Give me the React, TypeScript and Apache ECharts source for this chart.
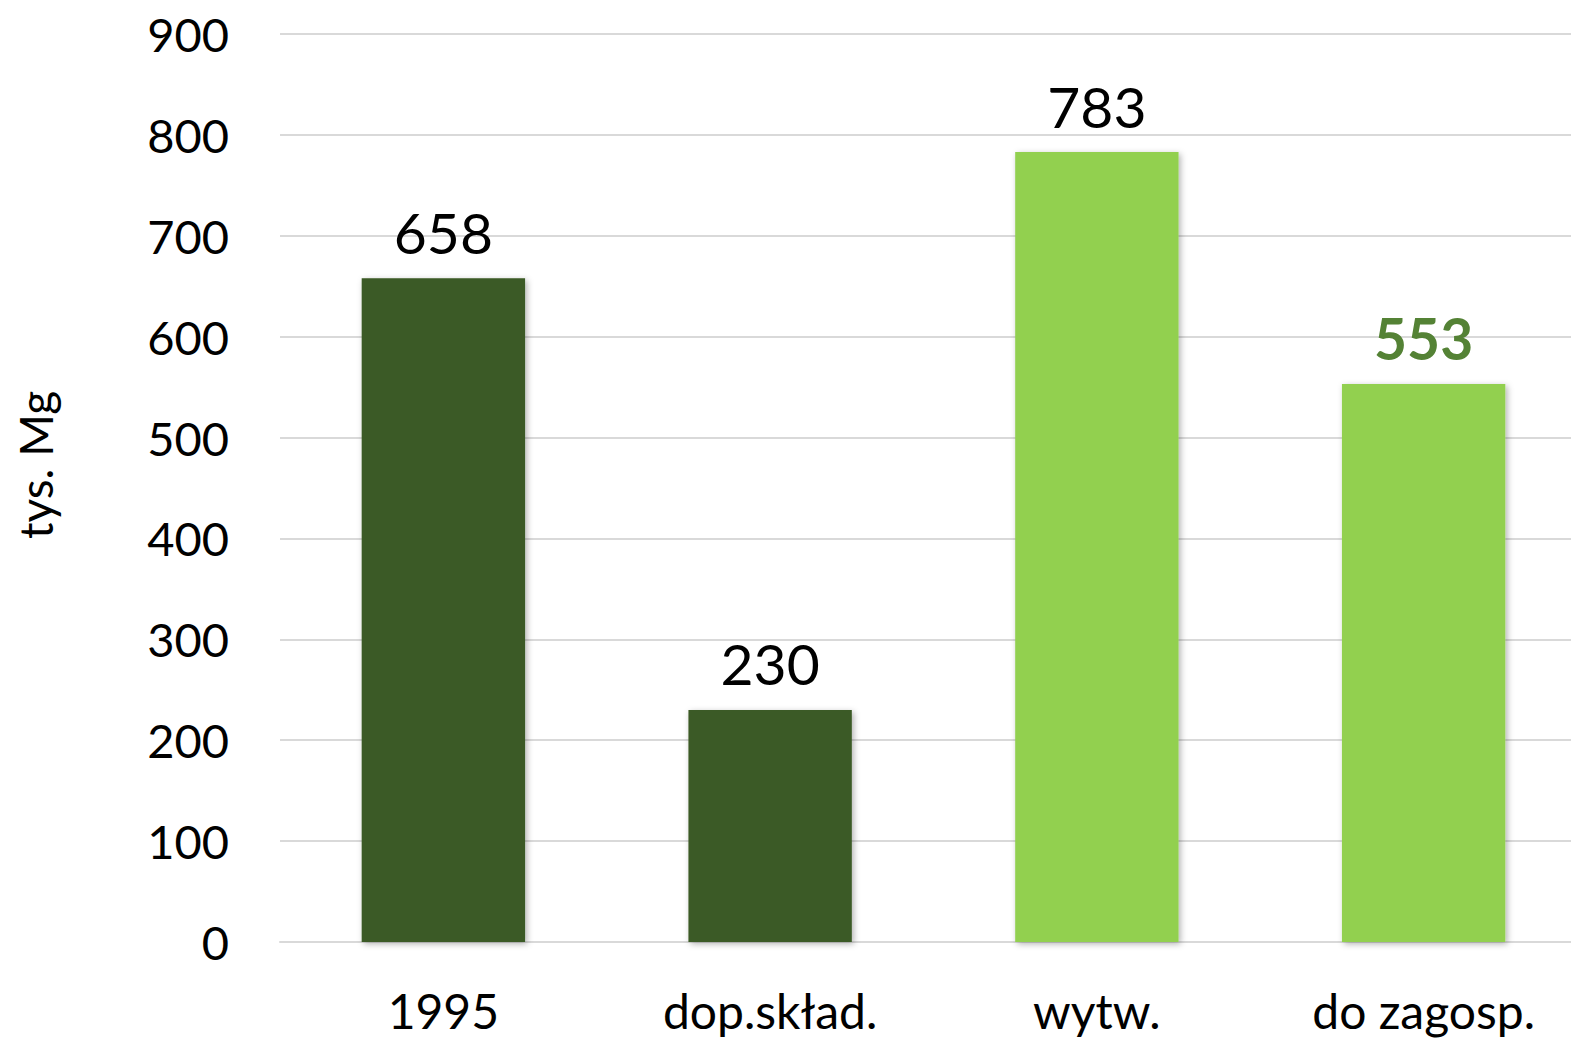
import React, { useEffect, useRef } from "react";
import * as echarts from "echarts";

const categories = ["1995", "dop.skład.", "wytw.", "do zagosp."];
const values = [658, 230, 783, 553];
const barColors = ["#3B5A25", "#3B5A25", "#92D050", "#92D050"];
const labelColors = ["#000000", "#000000", "#000000", "#548235"];
const labelWeights = ["normal", "normal", "normal", "bold"];
const yTicks = { min: 0, max: 900, interval: 100 };
const yAxisName = "tys. Mg";

const FONT = "Lato, 'Open Sans', sans-serif";

export default function App() {
  const ref = useRef<HTMLDivElement>(null);
  useEffect(() => {
    if (!ref.current) return;
    const chart = echarts.init(ref.current, undefined, { renderer: "svg" });
    chart.setOption({
      animation: false,
      backgroundColor: "#ffffff",
      textStyle: { fontFamily: FONT },
      grid: { left: 280, top: 34, width: 1307, height: 908, containLabel: false },
      xAxis: {
        type: "category",
        data: categories,
        axisTick: { show: false },
        axisLine: { show: true, lineStyle: { color: "#d9d9d9", width: 2 } },
        axisLabel: { color: "#000", fontSize: 48, fontFamily: FONT, margin: 44 },
      },
      yAxis: {
        type: "value",
        min: yTicks.min,
        max: yTicks.max,
        interval: yTicks.interval,
        axisLine: { show: false },
        axisTick: { show: false },
        splitLine: { lineStyle: { color: "#d9d9d9", width: 2 } },
        axisLabel: { color: "#000", fontSize: 47, fontFamily: FONT, margin: 51 },
      },
      graphic: [
        {
          type: "text",
          x: 35,
          y: 465,
          rotation: Math.PI / 2,
          style: {
            text: yAxisName,
            fontSize: 46,
            fontFamily: FONT,
            fill: "#000",
            align: "center",
            verticalAlign: "middle",
          },
        },
      ],
      series: [
        {
          type: "bar",
          barWidth: "50%",
          data: values.map((v, i) => ({
            value: v,
            itemStyle: {
              color: barColors[i],
              shadowBlur: 6,
              shadowColor: "rgba(0,0,0,0.3)",
              shadowOffsetX: 2,
              shadowOffsetY: 2,
            },
            label: {
              show: true,
              position: "top",
              distance: 18,
              fontSize: 57,
              fontFamily: FONT,
              color: labelColors[i],
              fontWeight: labelWeights[i],
            },
          })),
        },
      ],
    });
    return () => chart.dispose();
  }, []);
  return (
    <div
      style={{
        position: "fixed",
        left: 0,
        top: 0,
        width: 1571,
        height: 1038,
        overflow: "hidden",
        background: "#fff",
      }}
    >
      <div ref={ref} style={{ width: 1600, height: 1038 }} />
    </div>
  );
}
